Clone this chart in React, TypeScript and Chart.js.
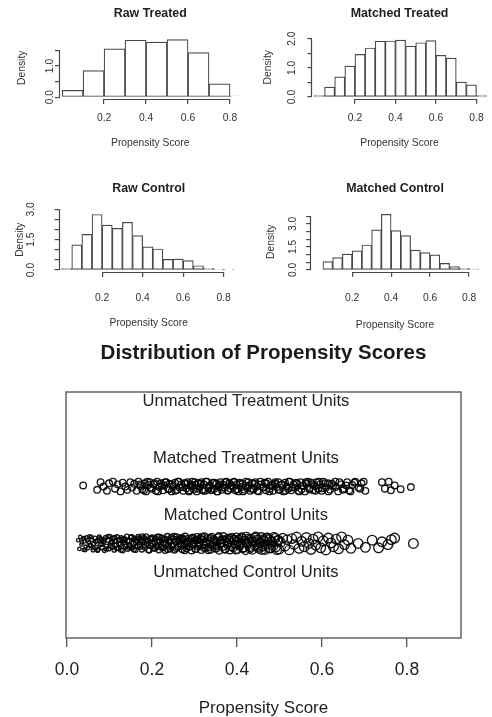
import React, { useEffect, useRef } from "react";
import { Chart, registerables } from "chart.js";
Chart.register(...registerables);

const FONT = "Arial, 'Liberation Sans', Helvetica, sans-serif";
Chart.defaults.font.family = FONT;

// ---------------- Histogram data (density per bin, bins given by left edge) ----------------
const rawTreatedBins = [0, 0.1, 0.2, 0.3, 0.4, 0.5, 0.6, 0.7, 0.8];
const rawTreatedDensity = [0.22, 0.85, 1.55, 1.83, 1.77, 1.85, 1.43, 0.43, 0.03];

const matchedTreatedBins = [0, 0.05, 0.1, 0.15, 0.2, 0.25, 0.3, 0.35, 0.4, 0.45, 0.5, 0.55, 0.6, 0.65, 0.7, 0.75, 0.8];
const matchedTreatedDensity = [0.05, 0.34, 0.69, 1.06, 1.46, 1.68, 1.91, 1.92, 1.95, 1.74, 1.86, 1.93, 1.43, 1.33, 0.51, 0.42, 0.05];

const rawControlBins = [0, 0.05, 0.1, 0.15, 0.2, 0.25, 0.3, 0.35, 0.4, 0.45, 0.5, 0.55, 0.6, 0.65, 0.7, 0.75, 0.8];
const rawControlDensity = [0.07, 1.24, 1.76, 2.75, 2.22, 2.06, 2.36, 1.7, 1.15, 1.04, 0.53, 0.54, 0.46, 0.21, 0.08, 0.05, 0.03];

const matchedControlBins = [0.05, 0.1, 0.15, 0.2, 0.25, 0.3, 0.35, 0.4, 0.45, 0.5, 0.55, 0.6, 0.65, 0.7, 0.75, 0.8];
const matchedControlDensity = [0.54, 0.8, 1.04, 1.24, 1.63, 2.61, 3.63, 2.57, 2.24, 1.3, 1.13, 0.98, 0.43, 0.22, 0.11, 0.05];

const histXTicks = [0.2, 0.4, 0.6, 0.8];
const rawTreatedYTicks = [0, 0.5, 1, 1.5];
const rawTreatedYLabelled = [0, 1];
const matchedTreatedYTicks = [0, 0.5, 1, 1.5, 2];
const matchedTreatedYLabelled = [0, 1, 2];
const rawControlYTicks = [0, 0.5, 1, 1.5, 2, 2.5, 3];
const rawControlYLabelled = [0, 1.5, 3];
const matchedControlYTicks = [0, 0.5, 1, 1.5, 2, 2.5, 3, 3.5];
const matchedControlYLabelled = [0, 1.5, 3];

// ---------------- Jitter plot data: [propensity score, vertical jitter] ----------------
const jitterXTicks = [0, 0.2, 0.4, 0.6, 0.8];
const groupLabels = ["Unmatched Treatment Units", "Matched Treatment Units", "Matched Control Units", "Unmatched Control Units"];
const groupLabelLevels = [4, 3, 2, 1];
const groupLabelX = 0.421;
const treatedLevel = 2.5;
const controlLevel = 1.5;

const treatedPoints: [number, number][] = [
  [0.038, 0.01], [0.071, -0.03], [0.079, 0.04], [0.086, 0.0], [0.094, -0.04], [0.099, 0.03], [0.108, 0.045], [0.113, -0.02],
  [0.119, 0.02], [0.126, -0.045], [0.131, 0.035], [0.137, 0.0], [0.142, -0.03], [0.149, 0.04], [0.153, -0.01], [0.158, 0.025],
  [0.164, -0.04], [0.168, 0.045], [0.173, 0.005], [0.177, -0.025], [0.183, 0.03], [0.186, -0.045], [0.191, 0.015], [0.195, 0.04],
  [0.199, -0.02], [0.204, 0.02], [0.209, -0.04], [0.212, 0.045], [0.217, -0.005], [0.221, 0.03], [0.226, -0.035], [0.229, 0.01],
  [0.233, 0.04], [0.238, -0.02], [0.241, 0.025], [0.246, -0.045], [0.249, 0.0], [0.254, 0.035], [0.258, -0.03], [0.261, 0.045],
  [0.265, -0.01], [0.269, 0.02], [0.273, -0.04], [0.276, 0.03], [0.281, -0.015], [0.284, 0.04], [0.288, -0.035], [0.291, 0.005],
  [0.295, 0.045], [0.298, -0.025], [0.302, 0.015], [0.305, -0.045], [0.309, 0.03], [0.312, -0.005], [0.316, 0.04], [0.318, -0.03],
  [0.322, 0.02], [0.325, -0.04], [0.329, 0.045], [0.333, -0.015], [0.336, 0.01], [0.339, -0.035], [0.343, 0.035], [0.346, -0.02],
  [0.351, 0.025], [0.354, -0.045], [0.357, 0.0], [0.361, 0.04], [0.364, -0.03], [0.368, 0.015], [0.371, -0.01], [0.375, 0.045],
  [0.378, -0.04], [0.382, 0.03], [0.385, -0.02], [0.389, 0.005], [0.392, 0.04], [0.396, -0.035], [0.399, 0.02], [0.403, -0.045],
  [0.406, 0.035], [0.41, -0.005], [0.413, 0.025], [0.417, -0.03], [0.421, 0.045], [0.424, -0.015], [0.428, 0.01], [0.431, -0.04],
  [0.436, 0.03], [0.439, -0.025], [0.443, 0.04], [0.447, 0.0], [0.451, -0.045], [0.456, 0.02], [0.461, -0.01], [0.465, 0.035],
  [0.468, -0.035], [0.473, 0.045], [0.477, -0.02], [0.481, 0.01], [0.485, -0.04], [0.489, 0.025], [0.493, -0.005], [0.497, 0.04],
  [0.501, -0.03], [0.505, 0.015], [0.509, -0.045], [0.513, 0.035], [0.517, 0.0], [0.52, -0.02], [0.524, 0.045], [0.528, -0.035],
  [0.533, 0.02], [0.537, -0.01], [0.541, 0.03], [0.545, -0.04], [0.549, 0.04], [0.552, -0.025], [0.556, 0.01], [0.56, -0.045],
  [0.564, 0.025], [0.567, 0.045], [0.571, -0.015], [0.575, 0.035], [0.579, -0.035], [0.583, 0.005], [0.587, 0.04], [0.591, -0.02],
  [0.595, 0.02], [0.599, -0.04], [0.603, 0.045], [0.609, -0.01], [0.614, 0.03], [0.619, -0.03], [0.626, 0.01], [0.631, 0.045],
  [0.638, -0.045], [0.645, 0.02], [0.651, -0.02], [0.659, 0.04], [0.664, -0.035], [0.671, 0.015], [0.678, 0.045], [0.686, -0.01],
  [0.693, 0.03], [0.702, -0.04], [0.741, 0.04], [0.748, -0.02], [0.757, 0.045], [0.762, -0.035], [0.771, 0.01], [0.785, -0.025],
  [0.809, -0.005],
  [0.172, 0.02], [0.181, -0.035], [0.189, 0.045], [0.197, -0.01], [0.206, 0.03], [0.214, -0.045], [0.223, 0.01], [0.231, 0.04],
  [0.239, -0.025], [0.247, 0.02], [0.255, -0.04], [0.263, 0.045], [0.271, -0.005], [0.279, 0.03], [0.287, -0.045], [0.294, 0.015],
  [0.301, 0.04], [0.308, -0.02], [0.315, 0.025], [0.321, -0.04], [0.327, 0.045], [0.334, 0.0], [0.341, -0.03], [0.347, 0.035],
  [0.353, -0.045], [0.359, 0.02], [0.366, -0.01], [0.372, 0.04], [0.379, -0.035], [0.386, 0.01], [0.393, 0.045], [0.4, -0.025],
  [0.407, 0.03], [0.414, -0.045], [0.42, 0.005], [0.427, 0.04], [0.434, -0.02], [0.441, 0.025], [0.448, -0.04], [0.455, 0.045],
  [0.462, -0.005], [0.469, 0.03], [0.476, -0.045], [0.483, 0.015], [0.49, 0.04], [0.498, -0.03], [0.506, 0.02], [0.514, -0.04],
  [0.522, 0.045], [0.53, -0.01], [0.538, 0.035], [0.546, -0.045], [0.554, 0.005], [0.562, 0.04], [0.57, -0.025], [0.577, 0.02],
  [0.585, -0.04], [0.593, 0.045], [0.6, -0.015], [0.607, 0.03], [0.615, -0.045], [0.623, 0.025], [0.632, -0.005], [0.641, 0.04],
  [0.649, -0.03], [0.657, 0.01], [0.667, -0.045], [0.676, 0.035], [0.69, -0.02], [0.698, 0.045],
];

const controlPoints: [number, number][] = [
  [0.026, 0.03], [0.029, -0.05], [0.031, 0.06], [0.034, -0.01], [0.037, 0.04], [0.039, -0.06], [0.041, 0.02], [0.044, -0.03],
  [0.046, 0.055], [0.049, -0.045], [0.051, 0.01], [0.053, 0.065], [0.056, -0.02], [0.058, 0.035], [0.061, -0.06], [0.063, 0.0],
  [0.066, 0.05], [0.068, -0.035], [0.071, 0.025], [0.073, -0.055], [0.076, 0.06], [0.078, -0.01], [0.081, 0.04], [0.083, -0.04],
  [0.086, 0.015], [0.088, -0.065], [0.091, 0.055], [0.093, -0.025], [0.096, 0.03], [0.098, -0.05], [0.101, 0.065], [0.103, 0.005],
  [0.106, -0.035], [0.108, 0.045], [0.111, -0.06], [0.113, 0.02], [0.116, -0.015], [0.118, 0.06], [0.121, -0.045], [0.123, 0.035],
  [0.126, -0.005], [0.128, 0.05], [0.131, -0.065], [0.133, 0.01], [0.136, 0.04], [0.138, -0.03], [0.141, 0.065], [0.143, -0.05],
  [0.146, 0.025], [0.148, -0.02], [0.151, 0.055], [0.153, -0.04], [0.156, 0.0], [0.158, 0.045], [0.161, -0.06], [0.163, 0.03],
  [0.166, -0.025], [0.168, 0.06], [0.171, -0.01], [0.173, 0.035], [0.176, -0.055], [0.178, 0.015], [0.181, 0.05], [0.183, -0.035],
  [0.186, 0.065], [0.188, -0.005], [0.191, 0.025], [0.193, -0.065], [0.196, 0.04], [0.198, -0.02], [0.201, 0.055], [0.203, -0.045],
  [0.206, 0.01], [0.208, 0.045], [0.211, -0.03], [0.213, 0.06], [0.216, -0.06], [0.218, 0.02], [0.221, -0.01], [0.223, 0.05],
  [0.226, -0.04], [0.228, 0.035], [0.231, -0.065], [0.233, 0.005], [0.236, 0.065], [0.238, -0.025], [0.241, 0.03], [0.243, -0.05],
  [0.246, 0.055], [0.248, -0.015], [0.251, 0.04], [0.253, -0.06], [0.256, 0.015], [0.258, 0.06], [0.261, -0.035], [0.263, 0.025],
  [0.266, -0.005], [0.268, 0.05], [0.271, -0.055], [0.273, 0.035], [0.276, -0.02], [0.278, 0.065], [0.281, -0.045], [0.283, 0.0],
  [0.286, 0.045], [0.288, -0.03], [0.291, 0.02], [0.293, -0.065], [0.296, 0.055], [0.298, -0.01], [0.301, 0.03], [0.303, -0.05],
  [0.306, 0.06], [0.308, -0.025], [0.311, 0.01], [0.313, 0.045], [0.316, -0.06], [0.318, 0.035], [0.321, -0.015], [0.323, 0.065],
  [0.326, -0.04], [0.328, 0.005], [0.331, 0.05], [0.333, -0.035], [0.336, 0.025], [0.338, -0.055], [0.341, 0.06], [0.343, -0.005],
  [0.346, 0.04], [0.348, -0.045], [0.351, 0.015], [0.353, -0.02], [0.356, 0.055], [0.358, -0.065], [0.361, 0.03], [0.363, 0.0],
  [0.366, -0.03], [0.368, 0.065], [0.371, -0.05], [0.373, 0.02], [0.376, 0.045], [0.378, -0.015], [0.381, 0.035], [0.383, -0.06],
  [0.386, 0.01], [0.388, 0.055], [0.391, -0.04], [0.393, 0.025], [0.396, -0.01], [0.398, 0.06], [0.401, -0.055], [0.404, 0.04],
  [0.406, -0.025], [0.409, 0.005], [0.412, 0.05], [0.414, -0.045], [0.417, 0.03], [0.42, -0.065], [0.422, 0.065], [0.425, -0.005],
  [0.428, 0.02], [0.431, -0.035], [0.433, 0.045], [0.436, -0.06], [0.439, 0.015], [0.442, 0.055], [0.445, -0.02], [0.448, 0.035],
  [0.451, -0.05], [0.454, 0.0], [0.457, 0.06], [0.46, -0.03], [0.463, 0.025], [0.466, -0.06], [0.469, 0.05], [0.472, -0.01],
  [0.476, 0.04], [0.479, -0.045], [0.483, 0.015], [0.487, 0.06], [0.491, -0.035], [0.495, 0.03], [0.499, -0.055], [0.503, 0.01],
  [0.508, 0.05], [0.513, -0.025], [0.518, 0.035], [0.523, -0.06], [0.529, 0.045], [0.534, -0.01], [0.54, 0.06], [0.546, -0.045],
  [0.552, 0.02], [0.558, -0.03], [0.563, 0.055], [0.569, 0.0], [0.574, -0.055], [0.579, 0.04], [0.585, -0.015], [0.591, 0.06],
  [0.597, -0.04], [0.603, 0.025], [0.609, -0.06], [0.615, 0.05], [0.621, 0.005], [0.627, -0.03], [0.633, 0.04], [0.639, -0.05],
  [0.646, 0.06], [0.653, -0.01], [0.661, 0.03], [0.668, -0.045], [0.685, 0.0], [0.702, -0.035], [0.718, 0.03], [0.733, -0.04],
  [0.741, 0.015], [0.755, -0.01], [0.763, 0.035], [0.771, 0.05], [0.815, 0.0],
  [0.035, 0.01], [0.04, 0.05], [0.043, -0.06], [0.048, 0.03], [0.054, -0.015], [0.057, 0.06], [0.062, -0.04], [0.067, 0.02],
  [0.072, -0.065], [0.077, 0.045], [0.082, -0.005], [0.087, 0.035], [0.092, -0.05], [0.097, 0.065], [0.102, -0.02], [0.107, 0.015],
  [0.112, 0.055], [0.117, -0.045], [0.122, 0.0], [0.127, -0.06], [0.132, 0.04], [0.137, -0.01], [0.142, 0.025], [0.147, -0.035],
  [0.152, 0.06], [0.157, -0.055], [0.162, 0.01], [0.167, 0.045], [0.172, -0.03], [0.177, 0.065], [0.182, -0.015], [0.187, 0.03],
  [0.192, -0.06], [0.197, 0.05], [0.202, -0.005], [0.207, -0.045], [0.212, 0.02], [0.217, 0.06], [0.222, -0.035], [0.227, 0.005],
  [0.232, 0.04], [0.237, -0.055], [0.242, 0.015], [0.247, -0.025], [0.252, 0.065], [0.257, -0.045], [0.262, 0.035], [0.267, -0.01],
  [0.272, 0.05], [0.277, -0.065], [0.282, 0.02], [0.287, -0.03], [0.292, 0.045], [0.297, 0.0], [0.302, -0.05], [0.307, 0.03],
  [0.312, -0.015], [0.317, 0.06], [0.322, -0.04], [0.327, 0.015], [0.332, -0.06], [0.337, 0.05], [0.342, -0.02], [0.347, 0.025],
  [0.352, -0.045], [0.357, 0.065], [0.362, -0.005], [0.367, 0.035], [0.372, -0.055], [0.377, 0.01], [0.382, 0.05], [0.387, -0.03],
  [0.392, 0.04], [0.397, -0.06], [0.402, 0.02], [0.407, -0.015], [0.411, 0.06], [0.416, -0.04], [0.421, 0.005], [0.426, 0.045],
  [0.43, -0.05], [0.435, 0.025], [0.44, -0.02], [0.444, 0.065], [0.449, -0.035], [0.453, 0.01], [0.458, -0.06], [0.462, 0.04],
  [0.467, -0.01], [0.471, 0.055], [0.475, -0.045], [0.48, 0.02], [0.485, -0.025], [0.49, 0.05], [0.494, -0.06], [0.498, 0.03],
];

// ---------------- Layout (geometry kept separate from data) ----------------
type Area = { l: number; t: number; r: number; b: number };
type HistSpec = {
  title: string;
  bins: number[];
  density: number[];
  binWidth: number;
  yTicks: number[];
  yLabelled: number[];
};
type HistGeom = {
  left: number; top: number; area: Area;
  xMin: number; xMax: number; yMin: number; yMax: number;
  yLabelX: number; yTitleX: number; xLabelY: number; xTitleY: number; titleY: number;
};

const HW = 246;
const HH = 170;
const TL = 5;
const JITTER_SCALE = 1.9;
const LINE = "#474747";
const H_TITLE = 12.4;
const H_SMALL = 10.3;

const histAxesPlugin = {
  id: "histAxes",
  afterDraw(chart: any) {
    const { ctx, chartArea, scales } = chart;
    const xs = scales.x;
    const ys = scales.y;
    const xt = xs.ticks;
    const yt = ys.ticks;
    ctx.save();
    ctx.strokeStyle = LINE;
    ctx.lineWidth = 1.2;
    ctx.beginPath();
    const by = Math.round(chartArea.bottom) + 0.5;
    ctx.moveTo(xs.getPixelForValue(xt[0].value), by);
    ctx.lineTo(xs.getPixelForValue(xt[xt.length - 1].value), by);
    const lx = Math.round(chartArea.left) - 0.5;
    ctx.moveTo(lx, ys.getPixelForValue(yt[0].value));
    ctx.lineTo(lx, ys.getPixelForValue(yt[yt.length - 1].value));
    ctx.stroke();
    ctx.restore();
  },
};

function Histogram({ spec, geom }: { spec: HistSpec; geom: HistGeom }) {
  const ref = useRef<HTMLCanvasElement | null>(null);
  useEffect(() => {
    if (!ref.current) return;
    const a = geom.area;
    const lhTitle = H_TITLE * 1.2;
    const lhSmall = H_SMALL * 1.2;
    const labelW = H_SMALL * 1.39;
    const chart = new Chart(ref.current, {
      type: "bar",
      data: {
        datasets: [
          {
            data: spec.bins.map((b, i) => ({ x: b + spec.binWidth / 2, y: spec.density[i] })),
            backgroundColor: "#ffffff",
            borderColor: LINE,
            borderWidth: 1.2,
            borderSkipped: false,
            barPercentage: 1,
            categoryPercentage: 1,
          } as any,
        ],
      },
      options: {
        responsive: false,
        animation: false,
        devicePixelRatio: 1,
        events: [],
        layout: { padding: { left: 0, top: 0, right: HW - a.r, bottom: 0 }, autoPadding: false } as any,
        plugins: {
          legend: { display: false },
          tooltip: { enabled: false },
          title: {
            display: true,
            text: spec.title,
            fullSize: false,
            color: "#1e1e1e",
            font: { family: FONT, size: H_TITLE, weight: "bold", lineHeight: 1.2 },
            padding: { top: geom.titleY - lhTitle / 2, bottom: a.t - geom.titleY - lhTitle / 2 },
          },
        },
        scales: {
          x: {
            type: "linear",
            offset: false,
            min: geom.xMin,
            max: geom.xMax,
            afterFit: (s: any) => { s.height = HH - a.b; },
            afterBuildTicks: (s: any) => { s.ticks = histXTicks.map((v) => ({ value: v })); },
            grid: { offset: false, drawOnChartArea: false, drawTicks: true, tickLength: TL, color: LINE, lineWidth: 1.2 },
            border: { display: false },
            ticks: {
              color: "#333",
              font: { family: FONT, size: H_SMALL, lineHeight: 1.2 },
              padding: geom.xLabelY - a.b - TL - lhSmall / 2,
              autoSkip: false,
              maxRotation: 0,
              callback: (v: any) => Number(v).toFixed(1),
            },
            title: {
              display: true,
              text: "Propensity Score",
              color: "#333",
              font: { family: FONT, size: H_SMALL, lineHeight: 1.2 },
              padding: { top: 0, bottom: HH - geom.xTitleY - lhSmall / 2 },
            },
          },
          y: {
            type: "linear",
            min: geom.yMin,
            max: geom.yMax,
            afterFit: (s: any) => { s.width = a.l; },
            afterBuildTicks: (s: any) => { s.ticks = spec.yTicks.map((v) => ({ value: v })); },
            grid: { drawOnChartArea: false, drawTicks: true, tickLength: TL, color: LINE, lineWidth: 1.2 },
            border: { display: false },
            ticks: {
              color: "#333",
              font: { family: FONT, size: H_SMALL, lineHeight: 1.2 },
              minRotation: 90,
              maxRotation: 90,
              crossAlign: "center",
              autoSkip: false,
              padding: a.l - TL - geom.yLabelX - labelW / 2,
              callback: (v: any) => (spec.yLabelled.includes(Number(v)) ? Number(v).toFixed(1) : ""),
            },
            title: {
              display: true,
              text: "Density",
              color: "#333",
              font: { family: FONT, size: H_SMALL, lineHeight: 1.2 },
              padding: { top: geom.yTitleX - lhSmall / 2, bottom: 0 },
            },
          },
        },
      } as any,
      plugins: [histAxesPlugin],
    });
    return () => chart.destroy();
  }, [spec, geom]);
  return (
    <canvas
      ref={ref}
      width={HW}
      height={HH}
      style={{ position: "absolute", left: geom.left, top: geom.top, width: HW, height: HH }}
    />
  );
}

const JW = 492;
const JH = 387;
const J_TITLE = 20.5;
const J_LABEL = 16.6;
const J_TICK = 17.5;
const J_AXIS = 17;

const jitterPlugin = {
  id: "jitterBox",
  afterDraw(chart: any) {
    const { ctx, chartArea, scales } = chart;
    ctx.save();
    ctx.strokeStyle = "#5a5a5a";
    ctx.lineWidth = 1.4;
    ctx.strokeRect(chartArea.left, chartArea.top, chartArea.right - chartArea.left, chartArea.bottom - chartArea.top);
    ctx.fillStyle = "#222";
    ctx.font = `${J_LABEL}px ${FONT}`;
    ctx.textAlign = "center";
    ctx.textBaseline = "middle";
    groupLabels.forEach((t, i) => {
      ctx.fillText(t, scales.x.getPixelForValue(groupLabelX), scales.y.getPixelForValue(groupLabelLevels[i]));
    });
    ctx.restore();
  },
};

function JitterPlot({ left, top }: { left: number; top: number }) {
  const ref = useRef<HTMLCanvasElement | null>(null);
  useEffect(() => {
    if (!ref.current) return;
    const area: Area = { l: 66, t: 62, r: 461, b: 308 };
    const lhT = J_TITLE * 1.2;
    const titleY = 23;
    const chart = new Chart(ref.current, {
      type: "scatter",
      data: {
        datasets: [
          {
            data: treatedPoints.map(([x, j]) => ({ x, y: treatedLevel + j * JITTER_SCALE })),
            pointRadius: 3.3,
            pointBorderColor: "rgba(0,0,0,0.9)",
            pointBackgroundColor: "rgba(0,0,0,0)",
            pointBorderWidth: 1.35,
          },
          {
            data: controlPoints.map(([x, j]) => ({ x, y: controlLevel + j * JITTER_SCALE })),
            pointRadius: (c: any) => (c.raw ? Math.min(4.8, 1.5 + 6 * c.raw.x) : 3),
            pointBorderColor: "rgba(0,0,0,0.9)",
            pointBackgroundColor: "rgba(0,0,0,0)",
            pointBorderWidth: 1.35,
          },
        ],
      },
      options: {
        responsive: false,
        animation: false,
        devicePixelRatio: 1,
        events: [],
        layout: { padding: { left: area.l, right: JW - area.r, top: 0, bottom: 0 }, autoPadding: false } as any,
        plugins: {
          legend: { display: false },
          tooltip: { enabled: false },
          title: {
            display: true,
            text: "Distribution of Propensity Scores",
            fullSize: false,
            color: "#1a1a1a",
            font: { family: FONT, size: J_TITLE, weight: "bold", lineHeight: 1.2 },
            padding: { top: titleY - lhT / 2, bottom: area.t - titleY - lhT / 2 },
          },
        },
        scales: {
          x: {
            type: "linear",
            min: -0.0024,
            max: 0.927,
            afterFit: (s: any) => { s.height = JH - area.b; },
            afterBuildTicks: (s: any) => { s.ticks = jitterXTicks.map((v) => ({ value: v })); },
            grid: { drawOnChartArea: false, drawTicks: true, tickLength: 9, color: "#555", lineWidth: 1.3 },
            border: { display: false },
            ticks: {
              color: "#222",
              font: { family: FONT, size: J_TICK, lineHeight: 1.2 },
              padding: 340 - area.b - 9 - (J_TICK * 1.2) / 2,
              autoSkip: false,
              maxRotation: 0,
              callback: (v: any) => Number(v).toFixed(1),
            },
            title: {
              display: true,
              text: "Propensity Score",
              color: "#222",
              font: { family: FONT, size: J_AXIS, lineHeight: 1.2 },
              padding: { top: 0, bottom: -2 },
            },
          },
          y: { type: "linear", display: false, min: -0.16, max: 4.16 },
        },
      } as any,
      plugins: [jitterPlugin],
    });
    return () => chart.destroy();
  }, []);
  return (
    <canvas ref={ref} width={JW} height={JH} style={{ position: "absolute", left, top, width: JW, height: JH }} />
  );
}

const specs: HistSpec[] = [
  { title: "Raw Treated", bins: rawTreatedBins, density: rawTreatedDensity, binWidth: 0.1, yTicks: rawTreatedYTicks, yLabelled: rawTreatedYLabelled },
  { title: "Matched Treated", bins: matchedTreatedBins, density: matchedTreatedDensity, binWidth: 0.05, yTicks: matchedTreatedYTicks, yLabelled: matchedTreatedYLabelled },
  { title: "Raw Control", bins: rawControlBins, density: rawControlDensity, binWidth: 0.05, yTicks: rawControlYTicks, yLabelled: rawControlYLabelled },
  { title: "Matched Control", bins: matchedControlBins, density: matchedControlDensity, binWidth: 0.05, yTicks: matchedControlYTicks, yLabelled: matchedControlYLabelled },
];

const geoms: HistGeom[] = [
  { left: 0, top: 0, area: { l: 60, t: 36.5, r: 240.5, b: 99 }, xMin: -0.01, xMax: 0.85, yMin: -0.06, yMax: 1.95, yLabelX: 50, yTitleX: 22, xLabelY: 118, xTitleY: 143, titleY: 14 },
  { left: 246, top: 0, area: { l: 66.4, t: 35.7, r: 245.3, b: 98.8 }, xMin: -0.01, xMax: 0.85, yMin: -0.06, yMax: 2.1, yLabelX: 46.5, yTitleX: 22, xLabelY: 118, xTitleY: 143, titleY: 14 },
  { left: 0, top: 170, area: { l: 59.6, t: 37.4, r: 242.7, b: 102 }, xMin: -0.01, xMax: 0.87, yMin: -0.1, yMax: 3.1, yLabelX: 31, yTitleX: 20.5, xLabelY: 127.7, xTitleY: 153.3, titleY: 18.3 },
  { left: 246, top: 170, area: { l: 65.2, t: 41.7, r: 242.4, b: 101.8 }, xMin: -0.01, xMax: 0.85, yMin: -0.12, yMax: 3.8, yLabelX: 46.7, yTitleX: 25, xLabelY: 128, xTitleY: 155, titleY: 18.3 },
];

export default function App() {
  return (
    <div style={{ position: "fixed", left: 0, top: 0, width: 492, height: 717, background: "#ffffff", overflow: "hidden" }}>
      {specs.map((s, i) => (
        <Histogram key={s.title} spec={s} geom={geoms[i]} />
      ))}
      <JitterPlot left={0} top={330} />
    </div>
  );
}
